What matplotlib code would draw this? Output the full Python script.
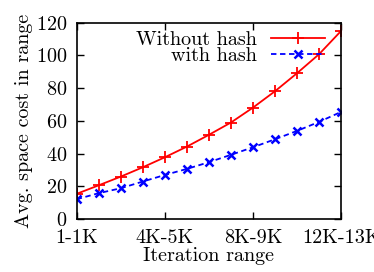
import matplotlib
matplotlib.use("Agg")
import matplotlib.pyplot as plt

plt.rcParams['font.family'] = ['cmr10', 'DejaVu Serif']
plt.rcParams['axes.formatter.use_mathtext'] = True
plt.rcParams['mathtext.fontset'] = 'cm'

categories = ["1-1K", "1K-2K", "2K-3K", "3K-4K", "4K-5K", "5K-6K", "6K-7K",
              "7K-8K", "8K-9K", "9K-10K", "10K-11K", "11K-12K", "12K-13K"]
without_hash = [15.5, 20.7, 26.0, 31.7, 37.8, 44.3, 51.5, 59.0, 68.1, 78.1, 89.1, 100.7, 114.9]
with_hash = [12.2, 15.9, 18.9, 23.0, 27.0, 30.7, 34.8, 39.3, 43.9, 48.8, 53.9, 59.4, 65.5]
xtick_labels = ["1-1K", "4K-5K", "8K-9K", "12K-13K"]
yticks = [0, 20, 40, 60, 80, 100, 120]

FS = 14.5
fig = plt.figure(figsize=(3.74, 2.72), dpi=100)
ax = fig.add_axes([0.205, 0.194, 0.707, 0.723])

x = list(range(len(categories)))
ax.plot(x, without_hash, color='red', lw=1.3, marker='+', ms=8, mew=1.3,
        label='Without hash')
ax.plot(x, with_hash, color='blue', lw=1.3, ls=(0, (3, 2)), marker='x', ms=6,
        mew=1.8, label='with hash')

ax.set_xlim(0, len(categories) - 1)
ax.set_ylim(0, 120)
ax.set_xticks([categories.index(t) for t in xtick_labels])
ax.set_xticklabels(xtick_labels)
ax.set_yticks(yticks)
ax.tick_params(direction='in', top=True, right=True, length=5, width=1,
               labelsize=FS)
ax.tick_params(axis='x', pad=7)
ax.tick_params(axis='y', pad=7)
for s in ax.spines.values():
    s.set_linewidth(1.2)

ax.set_xlabel('Iteration range', fontsize=FS, labelpad=0)
ax.set_ylabel('Avg. space cost in range', fontsize=FS, labelpad=2)

ax.legend(loc='upper right', frameon=False, markerfirst=False, numpoints=1,
          fontsize=FS, handlelength=2.7, handletextpad=0.7,
          labelspacing=-0.1, borderaxespad=0.0, bbox_to_anchor=(0.97, 1.0))
for t in ax.get_legend().get_texts():
    t.set_ha('right')

fig.savefig('out.png', dpi=100)
